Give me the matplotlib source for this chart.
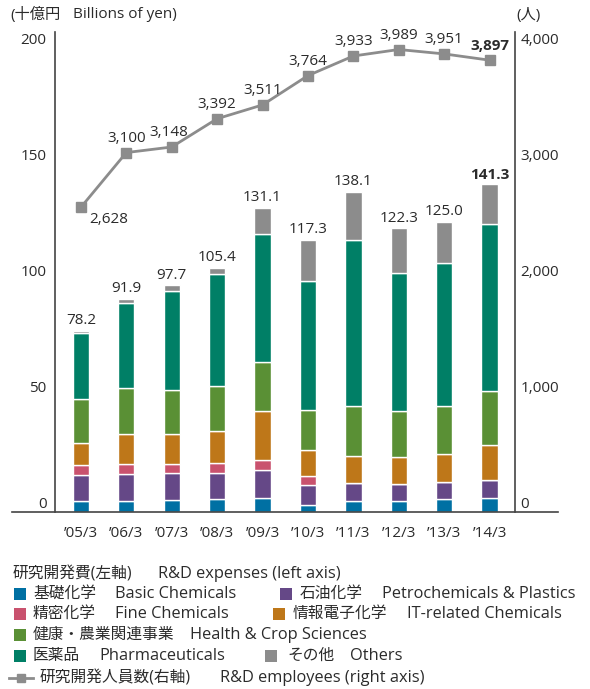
import matplotlib
matplotlib.use("Agg")
import matplotlib.pyplot as plt
from matplotlib.lines import Line2D
from matplotlib.patches import Rectangle
import numpy as np

plt.rcParams['font.family'] = ['Open Sans', 'Noto Sans CJK JP', 'DejaVu Sans']

years = ["’05/3", "’06/3", "’07/3", "’08/3", "’09/3", "’10/3", "’11/3", "’12/3", "’13/3", "’14/3"]
basic = [4.9, 4.9, 5.2, 5.7, 5.9, 3.0, 4.7, 4.7, 5.5, 6.0]
petro = [10.9, 11.6, 11.5, 11.2, 12.2, 8.5, 7.7, 7.4, 7.3, 7.7]
fine = [4.5, 4.3, 4.1, 4.2, 4.3, 4.2, 0, 0, 0, 0]
itrel = [9.6, 12.9, 12.9, 13.9, 21.1, 11.0, 11.7, 11.7, 12.3, 15.3]
health = [18.8, 19.7, 18.9, 19.4, 21.0, 17.4, 21.7, 19.9, 20.7, 23.0]
pharma = [28.3, 36.8, 42.8, 48.2, 55.3, 55.6, 71.7, 59.5, 61.5, 72.4]
others = [1.2, 1.7, 2.3, 2.8, 11.3, 17.6, 20.6, 19.1, 17.7, 16.9]
totals = [78.2, 91.9, 97.7, 105.4, 131.1, 117.3, 138.1, 122.3, 125.0, 141.3]
employees = [2628, 3100, 3148, 3392, 3511, 3764, 3933, 3989, 3951, 3897]

left_ticks = [0, 50, 100, 150, 200]
right_ticks = [0, 1000, 2000, 3000, 4000]
right_labels = ["0", "1,000", "2,000", "3,000", "4,000"]

series = [basic, petro, fine, itrel, health, pharma, others]
colors = ["#0070A3", "#654887", "#C9526E", "#BE7719", "#5A9035", "#007F66", "#8C8C8C"]
labels_jp = ["基礎化学", "石油化学", "精密化学", "情報電子化学", "健康・農業関連事業", "医薬品", "その他"]
labels_en = ["Basic Chemicals", "Petrochemicals & Plastics", "Fine Chemicals", "IT-related Chemicals",
             "Health & Crop Sciences", "Pharmaceuticals", "Others"]

TXT = "#2b2b2b"
FS = 11
W, H = 590, 689
fig = plt.figure(figsize=(W / 100, H / 100), dpi=100)
ax = fig.add_axes([55 / W, (H - 512) / H, (515 - 55) / W, (512 - 32) / H])

x = np.arange(len(years))
bottom = np.zeros(len(years))
for vals, c in zip(series, colors):
    v = np.array(vals, dtype=float)
    ax.bar(x, v, 0.36, bottom=bottom, color=c, edgecolor="white", linewidth=1.0, zorder=2)
    bottom += v

for i, t in enumerate(totals):
    ax.annotate(f"{t:.1f}", (x[i], bottom[i]), xytext=(0, 2), textcoords="offset points",
                ha="center", va="bottom", fontsize=FS, color=TXT,
                fontweight="bold" if i == len(totals) - 1 else "normal")

ax.set_xlim(-0.57, 9.56)
ax.set_ylim(0, 207)
ax.set_yticks(left_ticks)
ax.set_yticklabels([str(t) for t in left_ticks])
for lab in ax.get_yticklabels():
    lab.set_verticalalignment("bottom")
ax.tick_params(axis="y", length=0, pad=6, labelsize=FS, labelcolor=TXT)
ax.set_xticks(x)
ax.set_xticklabels(years)
ax.tick_params(axis="x", length=0, pad=10, labelsize=FS, labelcolor=TXT)
for s in ["top", "bottom", "right"]:
    ax.spines[s].set_visible(False)
ax.spines["left"].set_color("#444444")
ax.spines["left"].set_linewidth(1.2)

ax2 = ax.twinx()
ax2.set_ylim(0, 207 * 20)
ax2.set_yticks(right_ticks)
ax2.set_yticklabels(right_labels)
for lab in ax2.get_yticklabels():
    lab.set_verticalalignment("bottom")
ax2.tick_params(axis="y", length=0, pad=4, labelsize=FS, labelcolor=TXT)
for s in ["top", "bottom", "left"]:
    ax2.spines[s].set_visible(False)
ax2.spines["right"].set_color("#444444")
ax2.spines["right"].set_linewidth(1.2)

ax2.plot(x, employees, color="#8C8C8C", linewidth=2.0, marker="s", markersize=7, zorder=3)
for i, e in enumerate(employees):
    txt = f"{e:,}"
    bold = "bold" if i == len(employees) - 1 else "normal"
    if i == 0:
        ax2.annotate(txt, (x[i], e), xytext=(6, -9), textcoords="offset points",
                     ha="left", va="center", fontsize=FS, color=TXT)
    else:
        ax2.annotate(txt, (x[i], e), xytext=(-2 if i == 2 else 0, 5), textcoords="offset points",
                     ha="center", va="bottom", fontsize=FS, color=TXT, fontweight=bold)

# x axis baseline extending beyond the axes
fig.add_artist(Line2D([12 / W, 558 / W], [(H - 512) / H] * 2, color="#444444", linewidth=1.2))

# unit labels
fig.text(10 / W, 1 - 15 / H, "(十億円", fontsize=FS, color=TXT, va="center", ha="left")
fig.text(73 / W, 1 - 15 / H, "Billions of yen)", fontsize=FS, color=TXT, va="center", ha="left")
fig.text(516 / W, 1 - 15 / H, "(人)", fontsize=FS, color=TXT, va="center", ha="left")

# legend
def fy(py):
    return 1 - py / H

fj, fe = 11.3, 11.8
fig.text(13 / W, fy(574), "研究開発費(左軸)", fontsize=fj, color=TXT, va="center")
fig.text(158 / W, fy(574), "R&D expenses (left axis)", fontsize=fe, color=TXT, va="center")
# (series index, square x, jp text x, en text x, row y)
leg_items = [
    (0, 14, 33, 115, 594), (1, 280, 300, 382, 594),
    (2, 14, 33, 115, 614), (3, 273, 293, 407, 614),
    (4, 14, 33, 190, 635),
    (5, 14, 33, 99, 656), (6, 265, 287, 350, 656),
]
sq = 12
for idx, sx, jx, ex, ty in leg_items:
    fig.add_artist(Rectangle((sx / W, fy(ty + sq / 2)), sq / W, sq / H, transform=fig.transFigure,
                             facecolor=colors[idx], edgecolor="none"))
    fig.text(jx / W, fy(ty), labels_jp[idx], fontsize=fj, color=TXT, va="center")
    fig.text(ex / W, fy(ty), labels_en[idx], fontsize=fe, color=TXT, va="center")

fig.add_artist(Line2D([9 / W, 33 / W], [fy(678)] * 2, color="#8C8C8C", linewidth=2.0,
                      transform=fig.transFigure))
fig.add_artist(Line2D([21 / W], [fy(678)], color="#8C8C8C", marker="s", markersize=6,
                      linestyle="none", transform=fig.transFigure))
fig.text(40 / W, fy(678), "研究開発人員数(右軸)", fontsize=fj, color=TXT, va="center")
fig.text(220 / W, fy(678), "R&D employees (right axis)", fontsize=fe, color=TXT, va="center")

fig.savefig("out.png", dpi=100)
